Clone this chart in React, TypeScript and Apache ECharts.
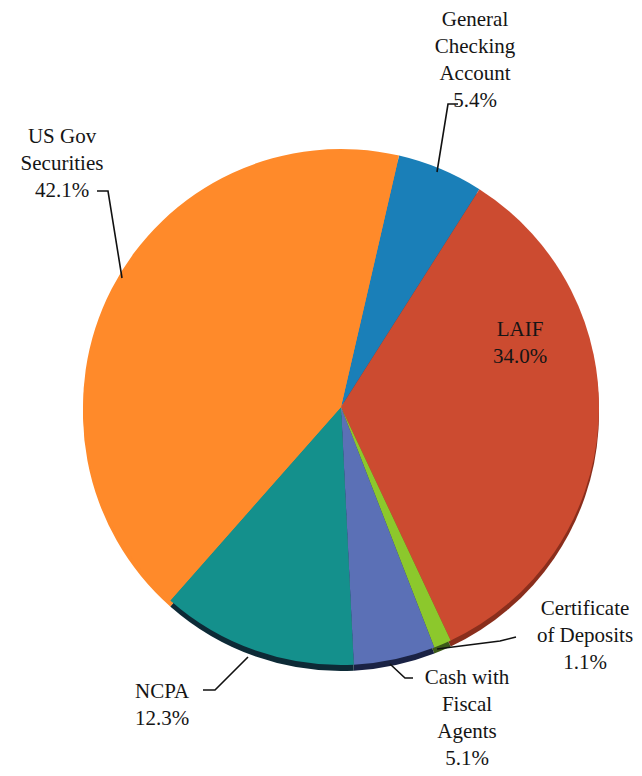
import React, { useEffect, useRef } from "react";
import * as echarts from "echarts";

const categories = [
  "General\nChecking\nAccount",
  "LAIF",
  "Certificate\nof Deposits",
  "Cash with\nFiscal\nAgents",
  "NCPA",
  "US Gov\nSecurities",
];
const percents = [5.4, 34.0, 1.1, 5.1, 12.3, 42.1];
const colors = ["#1a7fb8", "#cc4b30", "#8cc82c", "#5b70b6", "#14908c", "#ff8a2a"];
const rimColors = ["#0f4f78", "#8a2e1c", "#3c5a18", "#1a2244", "#0d2a36", "#ff8a2a"];

// label placement (text block anchor) and leader line points, per slice
const labelPos: [number, number, string][] = [
  [475, 59, "center"],
  [520, 342, "center"],
  [585, 635, "center"],
  [467, 717, "center"],
  [135, 704, "left"],
  [62, 163, "center"],
];
const leaderPts: (number[][] | null)[] = [
  [[437, 172], [448, 104], [458, 104]],
  null,
  [[437, 649], [500, 641], [516, 637]],
  [[390, 664], [405, 678], [413, 678]],
  [[248, 657], [215, 690], [203, 690]],
  [[122, 278], [108, 191], [97, 191]],
];

const FONT = "Liberation Serif";
const LINE_H = 27;

export default function App() {
  const ref = useRef<HTMLDivElement>(null);
  useEffect(() => {
    document.body.style.margin = "0";
    const chart = echarts.init(ref.current!, null, { renderer: "svg" });
    const data = categories.map((c, i) => ({
      name: c,
      value: percents[i],
      itemStyle: { color: colors[i] },
    }));
    const rimData = categories.map((c, i) => ({
      name: c,
      value: percents[i],
      itemStyle: { color: rimColors[i] },
    }));
    const texts: any[] = [];
    categories.forEach((c, i) => {
      const linesOfText = [...c.split("\n"), `${percents[i].toFixed(1)}%`];
      const n = linesOfText.length;
      linesOfText.forEach((t, k) => {
        texts.push({
          type: "text",
          x: labelPos[i][0],
          y: labelPos[i][1] + (k - (n - 1) / 2) * LINE_H,
          z: 10,
          style: {
            text: t,
            font: "21px 'Liberation Serif', serif",
            fontFamily: FONT,
            fontSize: 21,
            fill: "#151515",
            align: labelPos[i][2],
            verticalAlign: "middle",
          },
        });
      });
    });
    const lines = leaderPts
      .filter((p) => p !== null)
      .map((p) => ({
        type: "polyline",
        z: 10,
        shape: { points: p },
        style: { stroke: "#111111", lineWidth: 1.6, fill: null },
      }));
    chart.setOption({
      animation: false,
      backgroundColor: "#ffffff",
      textStyle: { fontFamily: FONT },
      graphic: [...lines, ...texts],
      series: [
        {
          type: "pie",
          silent: true,
          center: [341, 413],
          radius: 258,
          startAngle: 77,
          clockwise: true,
          data: rimData,
          label: { show: false },
          labelLine: { show: false },
          itemStyle: { borderWidth: 0 },
        },
        {
          type: "pie",
          center: [341, 407],
          radius: 258,
          startAngle: 77,
          clockwise: true,
          data,
          itemStyle: { borderWidth: 0 },
          label: { show: false },
          labelLine: { show: false },
        },
      ],
    });
    return () => chart.dispose();
  }, []);
  return <div ref={ref} style={{ width: 642, height: 776 }} />;
}
